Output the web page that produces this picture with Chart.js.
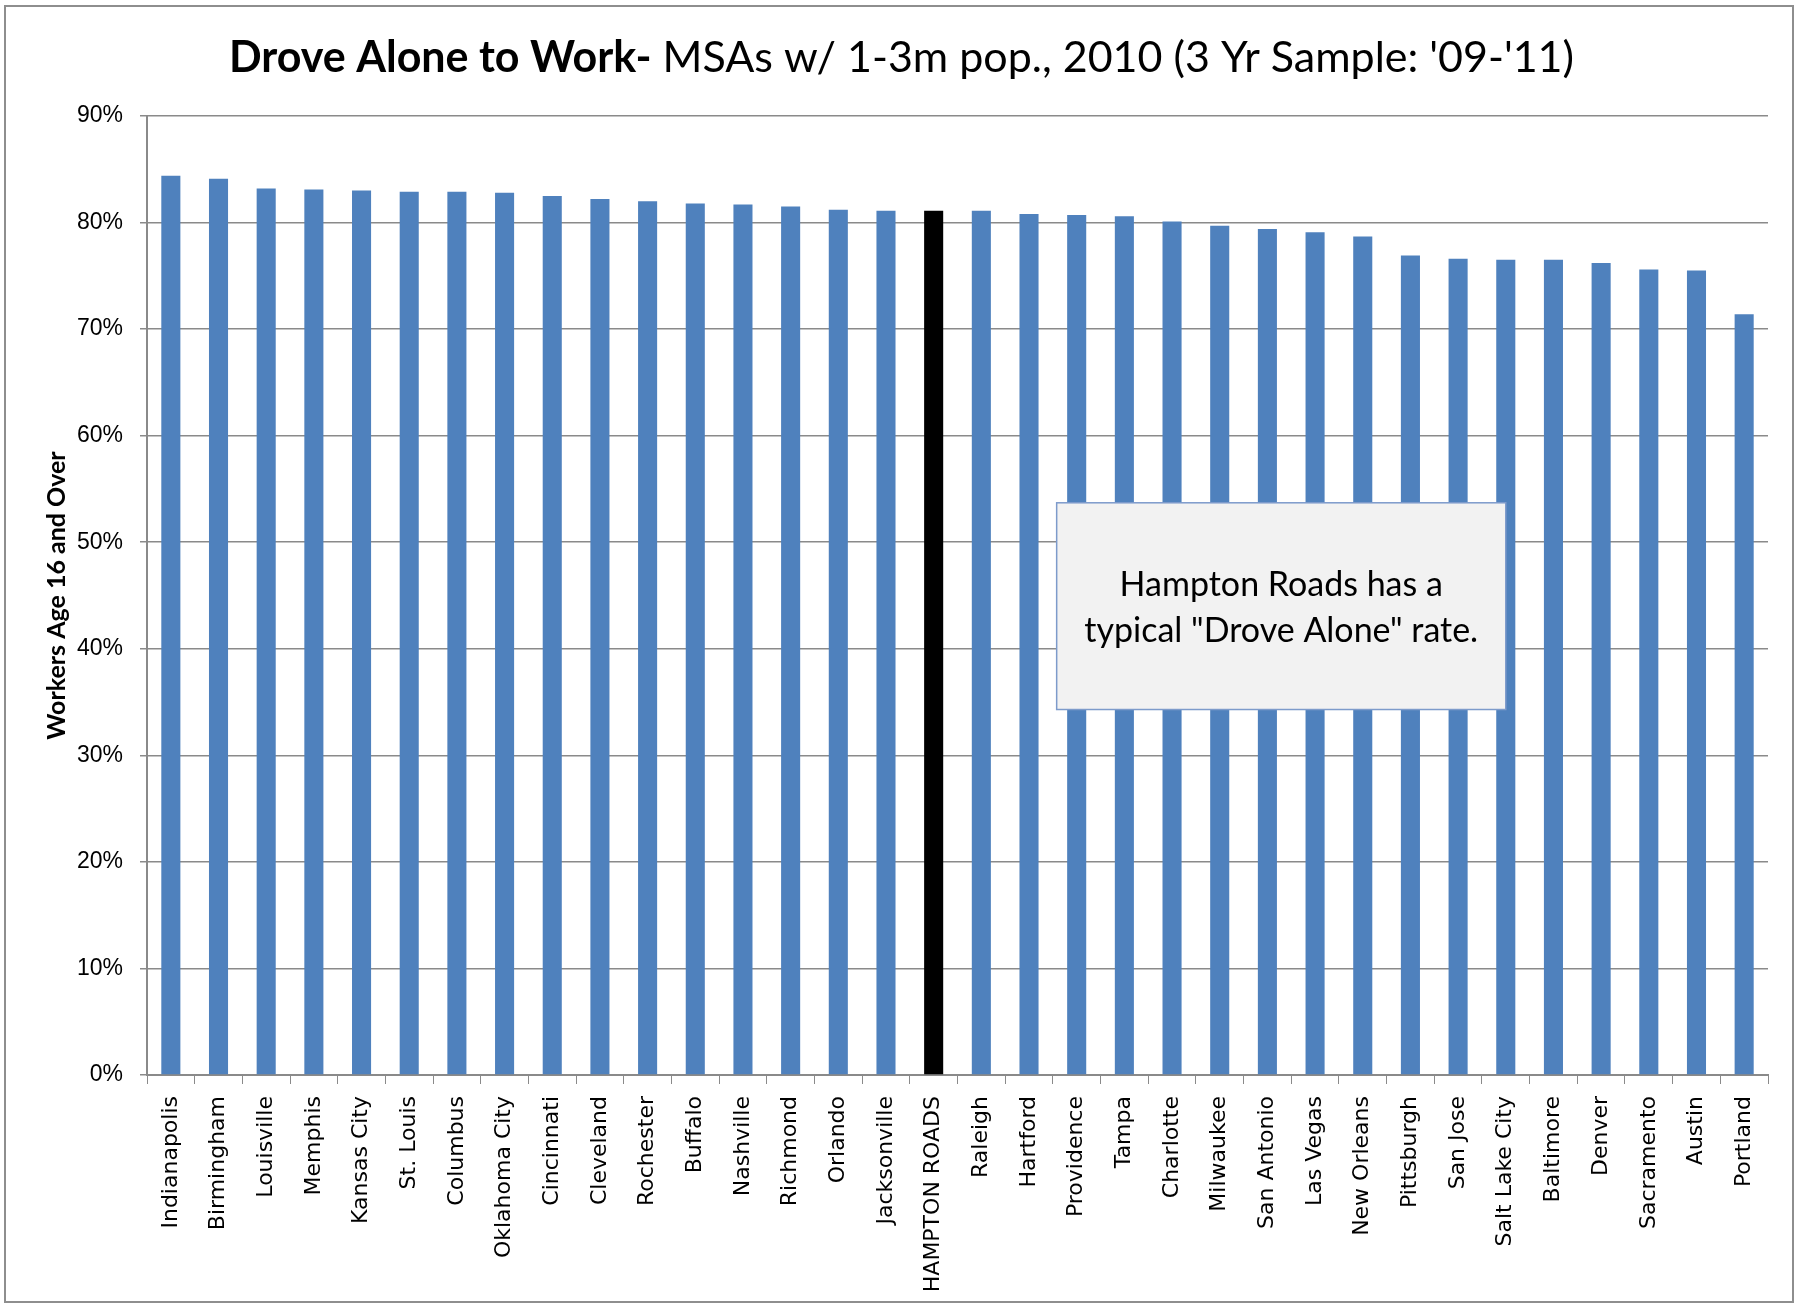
<!DOCTYPE html>
<html lang="en">
<head>
    <meta charset="UTF-8">
    <title>Drove Alone to Work</title>
    <script src="https://cdn.jsdelivr.net/npm/chart.js"></script>
    <style>
        body {
            margin: 0;
            background: #ffffff;
        }
        .frame {
            position: absolute;
            left: 4px;
            top: 5px;
            width: 1786px;
            height: 1294px;
            border: 2px solid #8e8e8e;
            pointer-events: none;
        }
        canvas {
            position: absolute;
            left: 0;
            top: 0;
        }
    </style>
</head>
<body>
    <canvas id="droveChart" width="1797" height="1303"></canvas>
    <div class="frame"></div>

    <script>
        // metro areas, left to right
        const cities = [
            'Indianapolis', 'Birmingham', 'Louisville', 'Memphis', 'Kansas City', 'St. Louis',
            'Columbus', 'Oklahoma City', 'Cincinnati', 'Cleveland', 'Rochester', 'Buffalo',
            'Nashville', 'Richmond', 'Orlando', 'Jacksonville', 'HAMPTON ROADS', 'Raleigh',
            'Hartford', 'Providence', 'Tampa', 'Charlotte', 'Milwaukee', 'San Antonio',
            'Las Vegas', 'New Orleans', 'Pittsburgh', 'San Jose', 'Salt Lake City', 'Baltimore',
            'Denver', 'Sacramento', 'Austin', 'Portland'
        ];
        // share of workers 16+ who drove alone (%)
        const droveAlone = [
            84.4, 84.1, 83.2, 83.1, 83.0, 82.9,
            82.9, 82.8, 82.5, 82.2, 82.0, 81.8,
            81.7, 81.5, 81.2, 81.1, 81.1, 81.1,
            80.8, 80.7, 80.6, 80.1, 79.7, 79.4,
            79.1, 78.7, 76.9, 76.6, 76.5, 76.5,
            76.2, 75.6, 75.5, 71.4
        ];
        const highlight = 'HAMPTON ROADS';
        const yTicks = [0, 10, 20, 30, 40, 50, 60, 70, 80, 90];

        const titleBold = 'Drove Alone to Work-';
        const titleRest = " MSAs w/ 1-3m pop., 2010 (3 Yr Sample: '09-'11)";
        const noteLines = ['Hampton Roads has a', 'typical "Drove Alone" rate.'];

        const gridGray = '#8a8a8a';

        // title in two weights, like the original
        const titlePlugin = {
            id: 'mixedTitle',
            afterDraw(chart) {
                const ctx = chart.ctx;
                ctx.save();
                const boldFont = 'bold 43px Lato, "Open Sans", sans-serif';
                const normFont = '43px Lato, "Open Sans", sans-serif';
                ctx.font = boldFont;
                const w1 = ctx.measureText(titleBold).width;
                ctx.font = normFont;
                const w2 = ctx.measureText(titleRest).width;
                let x = chart.width / 2 - (w1 + w2) / 2 + 3;
                const y = 72;
                ctx.fillStyle = '#000';
                ctx.textBaseline = 'alphabetic';
                ctx.textAlign = 'left';
                ctx.font = boldFont;
                ctx.fillText(titleBold, x, y);
                ctx.font = normFont;
                ctx.fillText(titleRest, x + w1, y);
                ctx.restore();
            }
        };

        // text box placed in data units
        const notePlugin = {
            id: 'noteBox',
            afterDatasetsDraw(chart) {
                const xs = chart.scales.x, ys = chart.scales.y;
                const left = xs.getPixelForValue(18.58);
                const right = xs.getPixelForValue(28.0);
                const top = ys.getPixelForValue(53.7);
                const bottom = ys.getPixelForValue(34.3);
                const ctx = chart.ctx;
                ctx.save();
                ctx.fillStyle = '#f2f2f2';
                ctx.fillRect(left, top, right - left, bottom - top);
                ctx.strokeStyle = '#7d9bcb';
                ctx.lineWidth = 1.5;
                ctx.strokeRect(left, top, right - left, bottom - top);
                ctx.fillStyle = '#000';
                ctx.font = '34px Lato, "Open Sans", sans-serif';
                ctx.textAlign = 'center';
                ctx.textBaseline = 'middle';
                const cx = (left + right) / 2;
                const cy = (top + bottom) / 2;
                ctx.fillText(noteLines[0], cx, cy - 21);
                ctx.fillText(noteLines[1], cx, cy + 25);
                ctx.restore();
            }
        };

        const chart = new Chart(document.getElementById('droveChart'), {
            type: 'bar',
            data: {
                labels: cities,
                datasets: [{
                    data: droveAlone,
                    backgroundColor: cities.map(c => c === highlight ? '#000000' : '#4f81bd'),
                    categoryPercentage: 1.0,
                    barPercentage: 0.4
                }]
            },
            options: {
                responsive: false,
                animation: false,
                devicePixelRatio: 1,
                layout: {
                    padding: { top: 116, right: 29, left: 0, bottom: 0 }
                },
                plugins: {
                    legend: { display: false },
                    tooltip: { enabled: false },
                    title: { display: false }
                },
                scales: {
                    x: {
                        grid: {
                            offset: true,
                            drawOnChartArea: false,
                            drawTicks: true,
                            tickLength: 9,
                            color: gridGray
                        },
                        border: { color: gridGray, width: 2 },
                        ticks: {
                            autoSkip: false,
                            minRotation: 90,
                            maxRotation: 90,
                            padding: 12,
                            color: '#000',
                            font: { family: '"DejaVu Sans", Verdana, sans-serif', size: 22 }
                        },
                        afterFit(scale) { scale.height = 228; }
                    },
                    y: {
                        min: 0,
                        max: 90,
                        afterBuildTicks(scale) {
                            scale.ticks = yTicks.map(v => ({ value: v }));
                        },
                        grid: {
                            color: gridGray,
                            lineWidth: 1.5,
                            tickLength: 7
                        },
                        border: { color: gridGray, width: 2 },
                        ticks: {
                            padding: 17,
                            color: '#000',
                            font: { family: '"Liberation Sans Narrow", "Liberation Sans", sans-serif', size: 23 },
                            callback: v => v + '%'
                        },
                        title: {
                            display: true,
                            text: 'Workers Age 16 and Over',
                            color: '#000',
                            padding: { top: 42, bottom: 0 },
                            font: { family: 'Lato, "Open Sans", sans-serif', size: 25, weight: 'bold' }
                        },
                        afterFit(scale) { scale.width = 147; }
                    }
                }
            },
            plugins: [titlePlugin, notePlugin]
        });
    </script>
</body>
</html>
